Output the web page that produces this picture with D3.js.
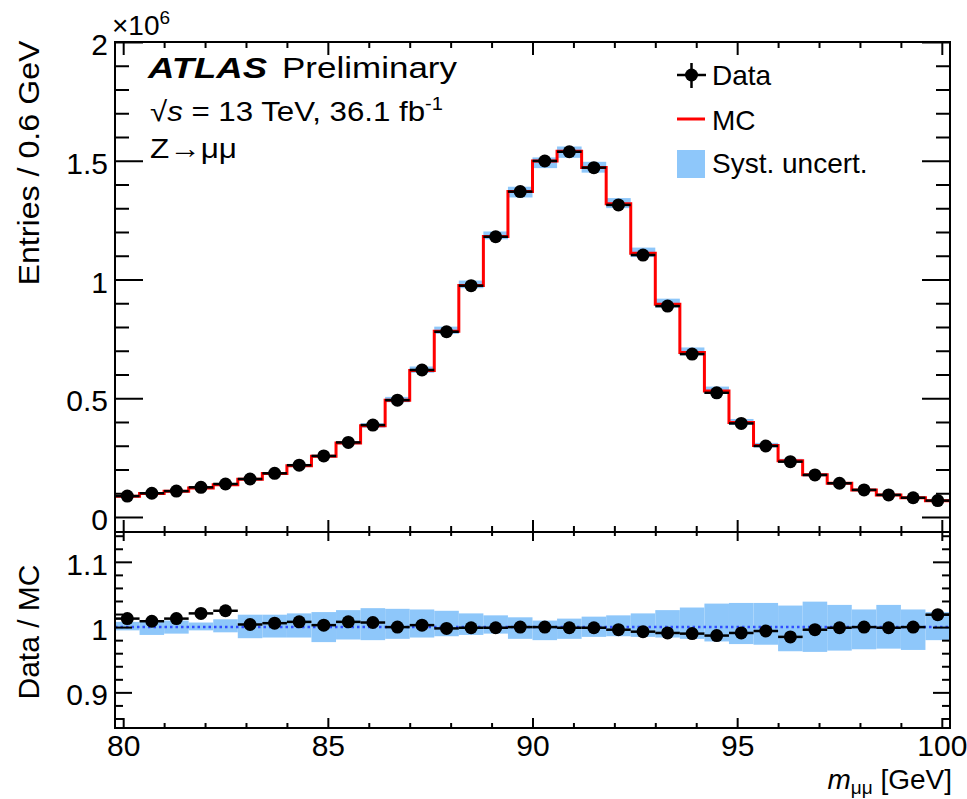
<!DOCTYPE html>
<html><head><meta charset="utf-8">
<script src="https://cdn.jsdelivr.net/npm/d3@7"></script>
<style>
html,body{margin:0;padding:0;background:#fff;}
svg{display:block;font-family:"Liberation Sans",Arial,Helvetica,sans-serif;}
</style></head><body>
<svg id="chart" width="967" height="799"></svg>
<script>
// ---- data (entries in units of 10^6) ----
const binEdges = [79.8, 80.4, 81.0, 81.6, 82.2, 82.8, 83.4, 84.0, 84.6, 85.2, 85.8, 86.4, 87.0, 87.6, 88.2, 88.8, 89.4,
  90.0, 90.6, 91.2, 91.8, 92.4, 93.0, 93.6, 94.2, 94.8, 95.4, 96.0, 96.6, 97.2, 97.8, 98.4, 99.0, 99.6, 100.2];
const dataCounts = [0.088, 0.100, 0.109, 0.125, 0.139, 0.160, 0.184, 0.218, 0.257, 0.314, 0.387, 0.492, 0.619, 0.780,
  0.974, 1.180, 1.370, 1.499, 1.538, 1.471, 1.314, 1.103, 0.888, 0.686, 0.523, 0.394, 0.299, 0.233, 0.177, 0.142,
  0.114, 0.093, 0.081, 0.069];
const mcCounts = [0.087, 0.099, 0.108, 0.122, 0.136, 0.159, 0.183, 0.216, 0.256, 0.312, 0.384, 0.492, 0.617, 0.782,
  0.975, 1.181, 1.370, 1.499, 1.540, 1.472, 1.319, 1.111, 0.896, 0.693, 0.530, 0.398, 0.301, 0.237, 0.178, 0.142,
  0.114, 0.093, 0.081, 0.068];
const ratioValues = [1.013, 1.009, 1.013, 1.021, 1.025, 1.004, 1.006, 1.008, 1.003, 1.008, 1.007, 1.000, 1.003, 0.998,
  0.999, 0.999, 1.000, 1.000, 0.999, 0.999, 0.996, 0.993, 0.991, 0.990, 0.987, 0.991, 0.994, 0.985, 0.996, 0.999,
  1.000, 0.999, 1.000, 1.019];
const systHigh = [1.008, 1.010, 1.010, 1.007, 1.012, 1.019, 1.019, 1.021, 1.023, 1.026, 1.029, 1.028, 1.027, 1.025,
  1.021, 1.018, 1.015, 1.010, 1.013, 1.016, 1.018, 1.021, 1.026, 1.030, 1.036, 1.037, 1.037, 1.033, 1.039, 1.034,
  1.027, 1.034, 1.027, 1.023];
const systLow = [0.995, 0.988, 0.990, 0.995, 0.992, 0.983, 0.984, 0.984, 0.977, 0.981, 0.980, 0.982, 0.984, 0.986,
  0.988, 0.990, 0.982, 0.980, 0.982, 0.985, 0.986, 0.985, 0.984, 0.982, 0.978, 0.974, 0.973, 0.963, 0.962, 0.964,
  0.966, 0.967, 0.965, 0.980];
const xMajorTicks = [80, 85, 90, 95, 100];
const xMinorTicks = [81, 82, 83, 84, 86, 87, 88, 89, 91, 92, 93, 94, 96, 97, 98, 99];
const yTopMajorTicks = [0, 0.5, 1, 1.5, 2];
const yTopMinorTicks = [0.1, 0.2, 0.3, 0.4, 0.6, 0.7, 0.8, 0.9, 1.1, 1.2, 1.3, 1.4, 1.6, 1.7, 1.8, 1.9];
const yRatioMajorTicks = [0.9, 1.0, 1.1];
const yRatioMinorTicks = [0.86, 0.88, 0.92, 0.94, 0.96, 0.98, 1.02, 1.04, 1.06, 1.08, 1.12, 1.14];
const legendLabels = ["Data", "MC", "Syst. uncert."];

// ---- layout ----
const L = 115, R = 950, T = 42, M = 532, B = 728;
const BAND = "#8ec7fa";
const svg = d3.select("#chart");

const x = d3.scaleLinear().domain([79.8, 100.2]).range([L, R]);
const yTop = d3.scaleLinear().domain([-0.0632, 2.0]).range([M, T]);
const yRat = d3.scaleLinear().domain([0.8454, 1.1457]).range([B, M]);

const bins = dataCounts.map((d, i) => ({
  lo: binEdges[i], hi: binEdges[i + 1], c: (binEdges[i] + binEdges[i + 1]) / 2,
  data: d, mc: mcCounts[i], ratio: ratioValues[i], sHi: systHigh[i], sLo: systLow[i]
}));

// ---- upper panel ----
const up = svg.append("g");
up.append("g").selectAll("rect").data(bins).join("rect")
  .attr("x", d => x(d.lo)).attr("width", d => x(d.hi) - x(d.lo))
  .attr("y", d => yTop(d.mc * d.sHi)).attr("height", d => yTop(d.mc * d.sLo) - yTop(d.mc * d.sHi))
  .attr("fill", BAND);

const stepPts = bins.map(d => [d.lo, d.mc]).concat([[binEdges[binEdges.length - 1], mcCounts[mcCounts.length - 1]]]);
up.append("path").datum(stepPts)
  .attr("d", d3.line().x(d => x(d[0])).y(d => yTop(d[1])).curve(d3.curveStepAfter))
  .attr("fill", "none").attr("stroke", "#ff0000").attr("stroke-width", 3);

up.append("g").selectAll("line").data(bins).join("line")
  .attr("x1", d => x(d.lo)).attr("x2", d => x(d.hi))
  .attr("y1", d => yTop(d.data)).attr("y2", d => yTop(d.data))
  .attr("stroke", "#000").attr("stroke-width", 2.5);
up.append("g").selectAll("circle").data(bins).join("circle")
  .attr("cx", d => x(d.c)).attr("cy", d => yTop(d.data)).attr("r", 6.5).attr("fill", "#000");

// ---- ratio panel ----
const lo = svg.append("g");
lo.append("g").selectAll("rect").data(bins).join("rect")
  .attr("x", d => x(d.lo)).attr("width", d => x(d.hi) - x(d.lo))
  .attr("y", d => yRat(d.sHi)).attr("height", d => yRat(d.sLo) - yRat(d.sHi))
  .attr("fill", BAND);
lo.append("line").attr("x1", x(79.8)).attr("x2", x(100.2)).attr("y1", yRat(1)).attr("y2", yRat(1))
  .attr("stroke", "#2f4dff").attr("stroke-width", 2.5).attr("stroke-dasharray", "2.5,3");
lo.append("g").selectAll("line").data(bins).join("line")
  .attr("x1", d => x(d.lo)).attr("x2", d => x(d.hi))
  .attr("y1", d => yRat(d.ratio)).attr("y2", d => yRat(d.ratio))
  .attr("stroke", "#000").attr("stroke-width", 2.5);
lo.append("g").selectAll("circle").data(bins).join("circle")
  .attr("cx", d => x(d.c)).attr("cy", d => yRat(d.ratio)).attr("r", 6.5).attr("fill", "#000");

// ---- frames ----
svg.append("rect").attr("x", L).attr("y", T).attr("width", R - L).attr("height", M - T)
  .attr("fill", "none").attr("stroke", "#000").attr("stroke-width", 2);
svg.append("rect").attr("x", L).attr("y", M).attr("width", R - L).attr("height", B - M)
  .attr("fill", "none").attr("stroke", "#000").attr("stroke-width", 2);

// ---- axes ----
function axis(gen, tr, ticks, size, fmt) {
  const g = svg.append("g").attr("transform", tr)
    .call(gen.tickValues(ticks).tickSize(size).tickPadding(7).tickFormat(fmt || (() => "")));
  g.attr("font-size", null).attr("font-family", null);
  g.select(".domain").remove();
  g.selectAll(".tick line").attr("stroke", "#000").attr("stroke-width", 2);
  g.selectAll(".tick text").attr("font-size", 30).attr("fill", "#000");
  return g;
}
const fmtNum = d => String(+d.toFixed(2));
// upper
axis(d3.axisLeft(yTop), `translate(${L},0)`, yTopMajorTicks, -28, fmtNum).selectAll("text").attr("dy", "0.42em");
axis(d3.axisLeft(yTop), `translate(${L},0)`, yTopMinorTicks, -14);
axis(d3.axisRight(yTop), `translate(${R},0)`, yTopMajorTicks, -28);
axis(d3.axisRight(yTop), `translate(${R},0)`, yTopMinorTicks, -14);
axis(d3.axisTop(x), `translate(0,${T})`, xMajorTicks, -13);
axis(d3.axisTop(x), `translate(0,${T})`, xMinorTicks, -6);
axis(d3.axisBottom(x), `translate(0,${M})`, xMajorTicks, -12);
axis(d3.axisBottom(x), `translate(0,${M})`, xMinorTicks, -6);
// lower
axis(d3.axisTop(x), `translate(0,${M})`, xMajorTicks, -9);
axis(d3.axisTop(x), `translate(0,${M})`, xMinorTicks, -4);
axis(d3.axisBottom(x), `translate(0,${B})`, xMajorTicks, -10, fmtNum);
axis(d3.axisBottom(x), `translate(0,${B})`, xMinorTicks, -5);
axis(d3.axisLeft(yRat), `translate(${L},0)`, yRatioMajorTicks, -17, fmtNum).selectAll("text").attr("dy", "0.42em");
axis(d3.axisLeft(yRat), `translate(${L},0)`, yRatioMinorTicks, -8);
axis(d3.axisRight(yRat), `translate(${R},0)`, yRatioMajorTicks, -17);
axis(d3.axisRight(yRat), `translate(${R},0)`, yRatioMinorTicks, -8);

// ---- axis titles ----
svg.append("text").attr("transform", "translate(39,163) rotate(-90)").attr("text-anchor", "middle")
  .attr("font-size", 30).attr("textLength", 245).attr("lengthAdjust", "spacingAndGlyphs")
  .text("Entries / 0.6 GeV");
svg.append("text").attr("transform", "translate(39,632) rotate(-90)").attr("text-anchor", "middle")
  .attr("font-size", 30).text("Data / MC");
const xt = svg.append("text").attr("x", 952).attr("y", 789).attr("text-anchor", "end").attr("font-size", 28);
xt.append("tspan").attr("font-style", "italic").text("m");
xt.append("tspan").attr("font-size", 19).attr("dy", 5).text("μμ");
xt.append("tspan").attr("dy", -5).text(" [GeV]");

// ×10^6
const ex = svg.append("text").attr("x", 112).attr("y", 35).attr("font-size", 28);
ex.append("tspan").text("×10");
ex.append("tspan").attr("font-size", 19).attr("dy", -11).text("6");

// ---- ATLAS labels ----
svg.append("text").attr("x", 148).attr("y", 78).attr("font-size", 30).attr("font-weight", "bold")
  .attr("font-style", "italic").attr("textLength", 119).attr("lengthAdjust", "spacingAndGlyphs").text("ATLAS");
svg.append("text").attr("x", 282).attr("y", 78).attr("font-size", 30)
  .attr("textLength", 175).attr("lengthAdjust", "spacingAndGlyphs").text("Preliminary");
const en = svg.append("text").attr("x", 150).attr("y", 121).attr("font-size", 28)
  .attr("textLength", 293).attr("lengthAdjust", "spacingAndGlyphs");
en.append("tspan").text("√");
en.append("tspan").attr("font-style", "italic").text("s");
en.append("tspan").text(" = 13 TeV, 36.1 fb");
en.append("tspan").attr("font-size", 18).attr("dy", -11).text("-1");
svg.append("text").attr("x", 150).attr("y", 158).attr("font-size", 28)
  .attr("textLength", 87).attr("lengthAdjust", "spacingAndGlyphs").text("Z→μμ");

// ---- legend ----
const lg = svg.append("g");
lg.append("line").attr("x1", 677).attr("x2", 706).attr("y1", 75).attr("y2", 75).attr("stroke", "#000").attr("stroke-width", 2.5);
lg.append("line").attr("x1", 691.5).attr("x2", 691.5).attr("y1", 63).attr("y2", 88).attr("stroke", "#000").attr("stroke-width", 2.5);
lg.append("circle").attr("cx", 691.5).attr("cy", 75).attr("r", 6.5).attr("fill", "#000");
lg.append("line").attr("x1", 677).attr("x2", 705).attr("y1", 119).attr("y2", 119).attr("stroke", "#ff0000").attr("stroke-width", 3);
lg.append("rect").attr("x", 677).attr("y", 150).attr("width", 28).attr("height", 28).attr("fill", BAND);
lg.selectAll("text").data(legendLabels).join("text")
  .attr("x", 712).attr("y", (d, i) => [85, 130, 173][i]).attr("font-size", 28).text(d => d);
</script>
</body></html>
